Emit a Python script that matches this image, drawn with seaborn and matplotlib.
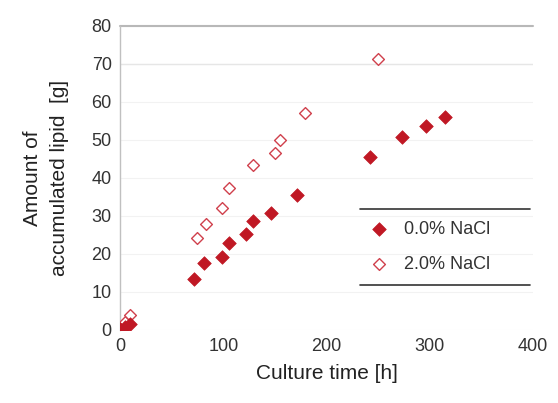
import matplotlib
matplotlib.use("Agg")
import matplotlib.pyplot as plt
import seaborn as sns
import pandas as pd

# Data
time_00 = [0, 5, 10, 72, 81, 99, 106, 122, 129, 146, 171, 242, 273, 296, 315]
lipid_00 = [0.3, 0.8, 1.5, 13.3, 17.6, 19.3, 23.0, 25.2, 28.8, 30.9, 35.5, 45.4, 50.9, 53.8, 56.0]
time_20 = [0, 5, 10, 75, 83, 99, 106, 129, 150, 155, 179, 250]
lipid_20 = [0.5, 2.0, 4.0, 24.1, 27.9, 32.0, 37.3, 43.4, 46.5, 50.0, 57.2, 71.2]
series_labels = ["0.0% NaCl", "2.0% NaCl"]
x_ticks = [0, 100, 200, 300, 400]
y_ticks = [0, 10, 20, 30, 40, 50, 60, 70, 80]

sns.set_theme(style="white")
plt.rcParams['font.family'] = ['Liberation Sans', 'DejaVu Sans']

df0 = pd.DataFrame({"t": time_00, "v": lipid_00})
df2 = pd.DataFrame({"t": time_20, "v": lipid_20})

fig = plt.figure(figsize=(5.58, 4.03), dpi=100)
ax = fig.add_axes([120/558, 1-330/403, 413/558, (330-26)/403])

red = "#c01824"
sns.scatterplot(data=df2, x="t", y="v", ax=ax, marker="D", s=36,
                facecolor="white", edgecolor="#d0404c", linewidth=1.0,
                label=series_labels[1], zorder=3)
sns.scatterplot(data=df0, x="t", y="v", ax=ax, marker="D", s=48,
                color=red, edgecolor=red, linewidth=0.5,
                label=series_labels[0], zorder=4)

ax.set_xlim(0, 400)
ax.set_ylim(0, 80)
ax.set_xticks(x_ticks)
ax.set_yticks(y_ticks)
ax.tick_params(axis="both", labelsize=13, colors="#333333", length=0, pad=6)

for s in ["top", "right", "bottom"]:
    ax.spines[s].set_visible(False)
ax.spines["left"].set_color("#c0c0c0")
ax.spines["left"].set_linewidth(1.0)

ax.yaxis.grid(True, color="#f2f2f2", linewidth=0.8)
ax.axhline(80, color="#b8b8b8", linewidth=1.5, zorder=1, clip_on=False)
ax.axhline(70, color="#e6e6e6", linewidth=1.0, zorder=1)

ax.set_xlabel("Culture time [h]", fontsize=15, color="#222222", labelpad=6)
ax.set_ylabel("Amount of\naccumulated lipid  [g]", fontsize=15, color="#222222",
              labelpad=16, linespacing=1.55)

handles, labels = ax.get_legend_handles_labels()
order = [labels.index(series_labels[0]), labels.index(series_labels[1])]
leg = ax.legend([handles[i] for i in order], [labels[i] for i in order],
                loc="center left", bbox_to_anchor=(0.565, 0.273), frameon=False,
                fontsize=13, handletextpad=0.4, labelspacing=1.0,
                borderaxespad=0)
for t in leg.get_texts():
    t.set_color("#333333")
ax.plot([0.58, 0.993], [0.398, 0.398], transform=ax.transAxes, color="#333333",
        linewidth=1.2, clip_on=False)
ax.plot([0.58, 0.993], [0.148, 0.148], transform=ax.transAxes, color="#333333",
        linewidth=1.2, clip_on=False)

fig.savefig("out.png", dpi=100)
